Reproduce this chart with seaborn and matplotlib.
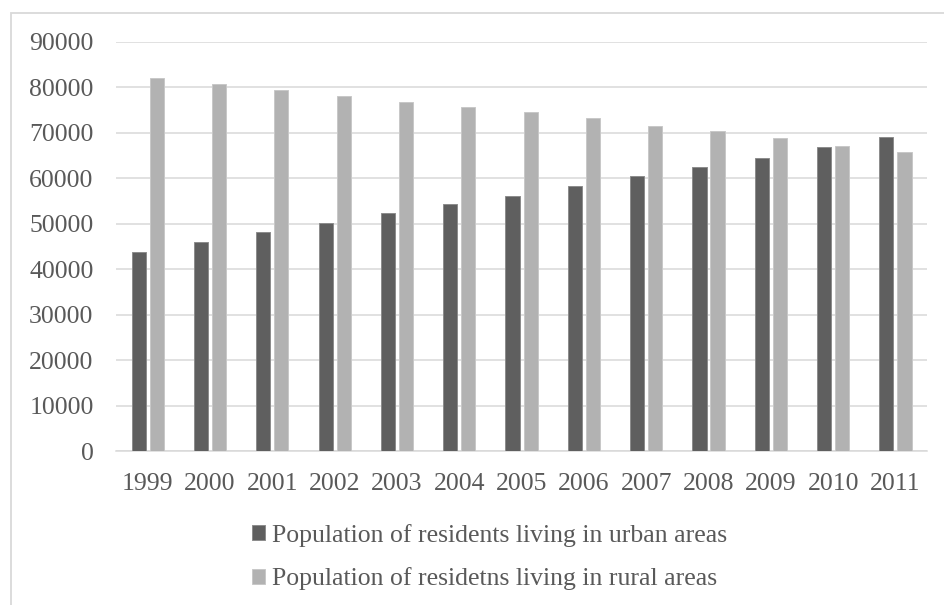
import matplotlib
matplotlib.use("Agg")
import matplotlib.pyplot as plt
from matplotlib.patches import Rectangle
import pandas as pd
import seaborn as sns

years = ["1999", "2000", "2001", "2002", "2003", "2004", "2005",
         "2006", "2007", "2008", "2009", "2010", "2011"]
urban = [43750, 45900, 48100, 50200, 52400, 54300, 56200,
         58300, 60600, 62400, 64500, 66900, 69100]
rural = [82000, 80800, 79500, 78200, 76800, 75700, 74500,
         73200, 71500, 70400, 68900, 67100, 65700]
series_names = ["Population of residents living in urban areas",
                "Population of residetns living in rural areas"]
y_ticks = [0, 10000, 20000, 30000, 40000, 50000, 60000, 70000, 80000, 90000]

df = pd.DataFrame({
    "year": years * 2,
    "population": urban + rural,
    "series": [series_names[0]] * len(years) + [series_names[1]] * len(years),
})

sns.set_theme(style="white")
plt.rcParams["font.family"] = ["Liberation Serif", "DejaVu Serif"]

W, H = 945, 605
fig = plt.figure(figsize=(W / 100, H / 100), dpi=100)
ax = fig.add_axes([116.5 / W, 1 - 451 / H, (926.6 - 116.5) / W, (451 - 42) / H])

text_color = "#595959"
grid_color = "#d9d9d9"
palette = {series_names[0]: "#5f5f5f", series_names[1]: "#b2b2b2"}

sns.barplot(data=df, x="year", y="population", hue="series", order=years,
            hue_order=series_names, palette=palette, width=0.58, gap=0.22,
            saturation=1, ax=ax, zorder=3)

# thin outline on each bar
for patch in ax.patches:
    fc = patch.get_facecolor()
    patch.set_edgecolor("#8c8c8c" if fc[0] < 0.5 else "#c8c8c8")
    patch.set_linewidth(0.7)

ax.set_ylim(0, 90000)
ax.set_xlim(-0.5, len(years) - 0.5)
ax.set_yticks(y_ticks)
ax.set_yticklabels([str(v) for v in y_ticks])
ax.yaxis.grid(True, color=grid_color, linewidth=1.1, zorder=0)
ax.xaxis.grid(False)
for side in ["top", "right", "left"]:
    ax.spines[side].set_visible(False)
ax.spines["bottom"].set_color(grid_color)
ax.spines["bottom"].set_linewidth(1.1)
ax.set_xlabel("")
ax.set_ylabel("")
ax.tick_params(axis="both", length=0, labelsize=18.5, colors=text_color)
ax.tick_params(axis="y", pad=16.5)
ax.tick_params(axis="x", pad=15.5)

handles, labels = ax.get_legend_handles_labels()
ax.legend_.remove()
leg = fig.legend(handles, labels, loc="center left",
                 bbox_to_anchor=(252 / W, 1 - 557 / H),
                 frameon=False, fontsize=18.5, borderpad=0, borderaxespad=0,
                 handlelength=0.51, handleheight=0.51, handletextpad=0.25,
                 labelspacing=0.8)
for t in leg.get_texts():
    t.set_color(text_color)

# outer chart border (left and top edges visible)
fig.patches.append(Rectangle((11 / W, -0.1), 1.2, 1 - 13 / H + 0.1,
                             transform=fig.transFigure, fill=False,
                             edgecolor=grid_color, linewidth=1.3))

fig.savefig("out.png", dpi=100)
